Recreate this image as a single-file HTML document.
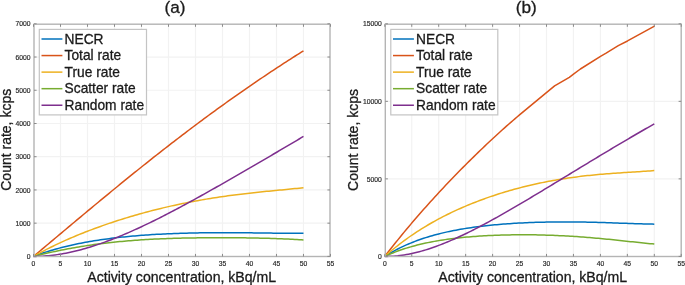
<!DOCTYPE html>
<html><head><meta charset="utf-8"><style>
html,body{margin:0;padding:0;background:#fff;width:685px;height:285px;overflow:hidden}
svg{display:block;will-change:transform}
text{font-family:"Liberation Sans",sans-serif;fill:#1a1a1a;stroke:#1a1a1a;stroke-width:0.3px}
.tk{stroke:#2a2a2a;stroke-width:0.18px}
.tk{font-size:6.75px;fill:#2a2a2a}
.lt{font-size:13.75px}
.xl{font-size:14.1px}
.yl{font-size:14px}
.ti{font-size:17.2px}
.g{stroke:#f2f2f2;stroke-width:1.2;fill:none}
.ax{stroke:#b4b4b4;stroke-width:1.4;fill:none}
.t{stroke:#8a8a8a;stroke-width:1}
.c{fill:none;stroke-width:1.5px;stroke-linejoin:round;stroke-linecap:butt}
.lg{fill:#fff;stroke:#c4c4c4;stroke-width:1.2}
</style></head><body>
<svg width="685" height="285" viewBox="0 0 685 285">

<line x1="60.50" y1="23.8" x2="60.50" y2="256.4" class="g"/>
<line x1="87.49" y1="23.8" x2="87.49" y2="256.4" class="g"/>
<line x1="114.49" y1="23.8" x2="114.49" y2="256.4" class="g"/>
<line x1="141.49" y1="23.8" x2="141.49" y2="256.4" class="g"/>
<line x1="168.49" y1="23.8" x2="168.49" y2="256.4" class="g"/>
<line x1="195.48" y1="23.8" x2="195.48" y2="256.4" class="g"/>
<line x1="222.48" y1="23.8" x2="222.48" y2="256.4" class="g"/>
<line x1="249.48" y1="23.8" x2="249.48" y2="256.4" class="g"/>
<line x1="276.48" y1="23.8" x2="276.48" y2="256.4" class="g"/>
<line x1="303.47" y1="23.8" x2="303.47" y2="256.4" class="g"/>
<line x1="33.5" y1="223.17" x2="330.47" y2="223.17" class="g"/>
<line x1="33.5" y1="189.94" x2="330.47" y2="189.94" class="g"/>
<line x1="33.5" y1="156.71" x2="330.47" y2="156.71" class="g"/>
<line x1="33.5" y1="123.49" x2="330.47" y2="123.49" class="g"/>
<line x1="33.5" y1="90.26" x2="330.47" y2="90.26" class="g"/>
<line x1="33.5" y1="57.03" x2="330.47" y2="57.03" class="g"/>
<path d="M33.50,256.40 L35.66,255.59 L37.82,254.81 L39.98,254.04 L42.14,253.30 L44.30,252.58 L46.46,251.88 L48.62,251.21 L50.78,250.55 L52.94,249.91 L55.10,249.29 L57.26,248.69 L59.42,248.10 L61.58,247.54 L63.74,246.99 L65.90,246.46 L68.06,245.94 L70.22,245.44 L72.38,244.95 L74.54,244.48 L76.70,244.02 L78.86,243.58 L81.02,243.15 L83.17,242.73 L85.33,242.33 L87.49,241.94 L89.65,241.56 L91.81,241.19 L93.97,240.83 L96.13,240.49 L98.29,240.16 L100.45,239.83 L102.61,239.52 L104.77,239.22 L106.93,238.92 L109.09,238.64 L111.25,238.36 L113.41,238.10 L115.57,237.84 L117.73,237.59 L119.89,237.35 L122.05,237.12 L124.21,236.90 L126.37,236.68 L128.53,236.47 L130.69,236.27 L132.85,236.08 L135.01,235.89 L137.17,235.71 L139.33,235.53 L141.49,235.37 L143.65,235.21 L145.81,235.05 L147.97,234.90 L150.13,234.76 L152.29,234.62 L154.45,234.49 L156.61,234.37 L158.77,234.25 L160.93,234.13 L163.09,234.02 L165.25,233.92 L167.41,233.82 L169.57,233.72 L171.73,233.63 L173.89,233.55 L176.05,233.47 L178.21,233.39 L180.37,233.32 L182.52,233.25 L184.68,233.19 L186.84,233.13 L189.00,233.08 L191.16,233.02 L193.32,232.98 L195.48,232.93 L197.64,232.89 L199.80,232.86 L201.96,232.83 L204.12,232.80 L206.28,232.77 L208.44,232.75 L210.60,232.73 L212.76,232.72 L214.92,232.70 L217.08,232.69 L219.24,232.69 L221.40,232.68 L223.56,232.68 L225.72,232.68 L227.88,232.69 L230.04,232.69 L232.20,232.70 L234.36,232.71 L236.52,232.73 L238.68,232.74 L240.84,232.76 L243.00,232.78 L245.16,232.80 L247.32,232.82 L249.48,232.84 L251.64,232.87 L253.80,232.89 L255.96,232.92 L258.12,232.95 L260.28,232.97 L262.44,233.00 L264.60,233.03 L266.76,233.06 L268.92,233.09 L271.08,233.12 L273.24,233.14 L275.40,233.17 L277.56,233.20 L279.72,233.22 L281.87,233.25 L284.03,233.27 L286.19,233.29 L288.35,233.31 L290.51,233.33 L292.67,233.34 L294.83,233.35 L296.99,233.36 L299.15,233.37 L301.31,233.37 L303.47,233.37" stroke="#0072BD" class="c"/>
<path d="M33.50,256.40 L35.66,254.59 L37.82,252.78 L39.98,250.97 L42.14,249.16 L44.30,247.35 L46.46,245.54 L48.62,243.73 L50.78,241.92 L52.94,240.10 L55.10,238.29 L57.26,236.48 L59.42,234.67 L61.58,232.85 L63.74,231.04 L65.90,229.23 L68.06,227.42 L70.22,225.61 L72.38,223.80 L74.54,222.00 L76.70,220.19 L78.86,218.38 L81.02,216.58 L83.17,214.78 L85.33,212.98 L87.49,211.18 L89.65,209.38 L91.81,207.59 L93.97,205.79 L96.13,204.00 L98.29,202.21 L100.45,200.42 L102.61,198.64 L104.77,196.86 L106.93,195.08 L109.09,193.30 L111.25,191.52 L113.41,189.75 L115.57,187.98 L117.73,186.21 L119.89,184.45 L122.05,182.69 L124.21,180.93 L126.37,179.18 L128.53,177.43 L130.69,175.68 L132.85,173.94 L135.01,172.20 L137.17,170.46 L139.33,168.73 L141.49,167.00 L143.65,165.27 L145.81,163.55 L147.97,161.83 L150.13,160.12 L152.29,158.41 L154.45,156.70 L156.61,155.00 L158.77,153.30 L160.93,151.61 L163.09,149.92 L165.25,148.23 L167.41,146.55 L169.57,144.88 L171.73,143.21 L173.89,141.54 L176.05,139.88 L178.21,138.22 L180.37,136.57 L182.52,134.92 L184.68,133.28 L186.84,131.64 L189.00,130.00 L191.16,128.37 L193.32,126.75 L195.48,125.13 L197.64,123.52 L199.80,121.91 L201.96,120.30 L204.12,118.70 L206.28,117.11 L208.44,115.52 L210.60,113.94 L212.76,112.36 L214.92,110.79 L217.08,109.22 L219.24,107.65 L221.40,106.10 L223.56,104.54 L225.72,103.00 L227.88,101.45 L230.04,99.92 L232.20,98.38 L234.36,96.86 L236.52,95.34 L238.68,93.82 L240.84,92.31 L243.00,90.81 L245.16,89.31 L247.32,87.81 L249.48,86.32 L251.64,84.84 L253.80,83.36 L255.96,81.89 L258.12,80.42 L260.28,78.96 L262.44,77.50 L264.60,76.05 L266.76,74.60 L268.92,73.16 L271.08,71.72 L273.24,70.29 L275.40,68.86 L277.56,67.44 L279.72,66.02 L281.87,64.61 L284.03,63.21 L286.19,61.81 L288.35,60.41 L290.51,59.02 L292.67,57.63 L294.83,56.25 L296.99,54.88 L299.15,53.51 L301.31,52.14 L303.47,50.78" stroke="#D95319" class="c"/>
<path d="M33.50,256.40 L35.66,255.19 L37.82,254.01 L39.98,252.84 L42.14,251.69 L44.30,250.56 L46.46,249.45 L48.62,248.36 L50.78,247.28 L52.94,246.22 L55.10,245.18 L57.26,244.15 L59.42,243.14 L61.58,242.14 L63.74,241.16 L65.90,240.19 L68.06,239.24 L70.22,238.30 L72.38,237.37 L74.54,236.46 L76.70,235.56 L78.86,234.67 L81.02,233.79 L83.17,232.93 L85.33,232.07 L87.49,231.23 L89.65,230.40 L91.81,229.59 L93.97,228.78 L96.13,227.98 L98.29,227.19 L100.45,226.42 L102.61,225.65 L104.77,224.89 L106.93,224.15 L109.09,223.41 L111.25,222.68 L113.41,221.97 L115.57,221.26 L117.73,220.56 L119.89,219.87 L122.05,219.19 L124.21,218.52 L126.37,217.86 L128.53,217.20 L130.69,216.56 L132.85,215.92 L135.01,215.29 L137.17,214.67 L139.33,214.06 L141.49,213.46 L143.65,212.86 L145.81,212.28 L147.97,211.70 L150.13,211.13 L152.29,210.57 L154.45,210.02 L156.61,209.47 L158.77,208.94 L160.93,208.41 L163.09,207.89 L165.25,207.38 L167.41,206.87 L169.57,206.38 L171.73,205.89 L173.89,205.41 L176.05,204.93 L178.21,204.47 L180.37,204.01 L182.52,203.56 L184.68,203.12 L186.84,202.69 L189.00,202.26 L191.16,201.85 L193.32,201.43 L195.48,201.03 L197.64,200.64 L199.80,200.25 L201.96,199.87 L204.12,199.49 L206.28,199.13 L208.44,198.77 L210.60,198.42 L212.76,198.07 L214.92,197.74 L217.08,197.41 L219.24,197.08 L221.40,196.77 L223.56,196.45 L225.72,196.15 L227.88,195.85 L230.04,195.56 L232.20,195.27 L234.36,194.99 L236.52,194.72 L238.68,194.45 L240.84,194.19 L243.00,193.93 L245.16,193.68 L247.32,193.43 L249.48,193.18 L251.64,192.94 L253.80,192.71 L255.96,192.48 L258.12,192.25 L260.28,192.02 L262.44,191.80 L264.60,191.58 L266.76,191.37 L268.92,191.15 L271.08,190.94 L273.24,190.73 L275.40,190.52 L277.56,190.31 L279.72,190.10 L281.87,189.89 L284.03,189.68 L286.19,189.46 L288.35,189.25 L290.51,189.04 L292.67,188.82 L294.83,188.60 L296.99,188.38 L299.15,188.15 L301.31,187.92 L303.47,187.68" stroke="#EDB120" class="c"/>
<path d="M33.50,256.40 L35.66,255.87 L37.82,255.34 L39.98,254.82 L42.14,254.31 L44.30,253.81 L46.46,253.32 L48.62,252.83 L50.78,252.35 L52.94,251.88 L55.10,251.42 L57.26,250.97 L59.42,250.53 L61.58,250.09 L63.74,249.67 L65.90,249.25 L68.06,248.84 L70.22,248.44 L72.38,248.05 L74.54,247.67 L76.70,247.29 L78.86,246.93 L81.02,246.57 L83.17,246.22 L85.33,245.88 L87.49,245.55 L89.65,245.23 L91.81,244.92 L93.97,244.61 L96.13,244.32 L98.29,244.03 L100.45,243.75 L102.61,243.48 L104.77,243.21 L106.93,242.96 L109.09,242.71 L111.25,242.47 L113.41,242.23 L115.57,242.01 L117.73,241.79 L119.89,241.58 L122.05,241.38 L124.21,241.18 L126.37,240.99 L128.53,240.81 L130.69,240.64 L132.85,240.47 L135.01,240.31 L137.17,240.15 L139.33,240.00 L141.49,239.86 L143.65,239.72 L145.81,239.59 L147.97,239.46 L150.13,239.34 L152.29,239.23 L154.45,239.12 L156.61,239.01 L158.77,238.91 L160.93,238.82 L163.09,238.73 L165.25,238.65 L167.41,238.56 L169.57,238.49 L171.73,238.42 L173.89,238.35 L176.05,238.29 L178.21,238.23 L180.37,238.17 L182.52,238.12 L184.68,238.07 L186.84,238.03 L189.00,237.99 L191.16,237.95 L193.32,237.91 L195.48,237.88 L197.64,237.85 L199.80,237.83 L201.96,237.80 L204.12,237.78 L206.28,237.77 L208.44,237.75 L210.60,237.74 L212.76,237.73 L214.92,237.72 L217.08,237.72 L219.24,237.71 L221.40,237.71 L223.56,237.72 L225.72,237.72 L227.88,237.73 L230.04,237.74 L232.20,237.75 L234.36,237.76 L236.52,237.78 L238.68,237.80 L240.84,237.82 L243.00,237.84 L245.16,237.87 L247.32,237.90 L249.48,237.93 L251.64,237.96 L253.80,238.00 L255.96,238.04 L258.12,238.08 L260.28,238.13 L262.44,238.18 L264.60,238.23 L266.76,238.29 L268.92,238.35 L271.08,238.42 L273.24,238.49 L275.40,238.56 L277.56,238.64 L279.72,238.72 L281.87,238.81 L284.03,238.90 L286.19,239.00 L288.35,239.10 L290.51,239.22 L292.67,239.33 L294.83,239.46 L296.99,239.59 L299.15,239.73 L301.31,239.87 L303.47,240.03" stroke="#77AC30" class="c"/>
<path d="M33.50,256.40 L35.66,256.39 L37.82,256.34 L39.98,256.27 L42.14,256.17 L44.30,256.03 L46.46,255.87 L48.62,255.67 L50.78,255.45 L52.94,255.20 L55.10,254.92 L57.26,254.62 L59.42,254.29 L61.58,253.93 L63.74,253.55 L65.90,253.15 L68.06,252.72 L70.22,252.26 L72.38,251.78 L74.54,251.28 L76.70,250.76 L78.86,250.21 L81.02,249.65 L83.17,249.06 L85.33,248.45 L87.49,247.82 L89.65,247.17 L91.81,246.50 L93.97,245.82 L96.13,245.11 L98.29,244.39 L100.45,243.64 L102.61,242.89 L104.77,242.11 L106.93,241.32 L109.09,240.51 L111.25,239.69 L113.41,238.85 L115.57,237.99 L117.73,237.12 L119.89,236.24 L122.05,235.34 L124.21,234.43 L126.37,233.51 L128.53,232.57 L130.69,231.63 L132.85,230.67 L135.01,229.69 L137.17,228.71 L139.33,227.71 L141.49,226.71 L143.65,225.69 L145.81,224.66 L147.97,223.63 L150.13,222.58 L152.29,221.53 L154.45,220.46 L156.61,219.39 L158.77,218.31 L160.93,217.22 L163.09,216.12 L165.25,215.01 L167.41,213.90 L169.57,212.78 L171.73,211.65 L173.89,210.52 L176.05,209.38 L178.21,208.23 L180.37,207.08 L182.52,205.92 L184.68,204.76 L186.84,203.59 L189.00,202.42 L191.16,201.24 L193.32,200.05 L195.48,198.87 L197.64,197.67 L199.80,196.48 L201.96,195.27 L204.12,194.07 L206.28,192.86 L208.44,191.65 L210.60,190.44 L212.76,189.22 L214.92,188.00 L217.08,186.77 L219.24,185.54 L221.40,184.32 L223.56,183.08 L225.72,181.85 L227.88,180.61 L230.04,179.37 L232.20,178.13 L234.36,176.89 L236.52,175.64 L238.68,174.40 L240.84,173.15 L243.00,171.90 L245.16,170.65 L247.32,169.40 L249.48,168.14 L251.64,166.89 L253.80,165.63 L255.96,164.37 L258.12,163.11 L260.28,161.85 L262.44,160.59 L264.60,159.33 L266.76,158.07 L268.92,156.80 L271.08,155.54 L273.24,154.27 L275.40,153.01 L277.56,151.74 L279.72,150.47 L281.87,149.20 L284.03,147.93 L286.19,146.66 L288.35,145.38 L290.51,144.11 L292.67,142.83 L294.83,141.56 L296.99,140.28 L299.15,139.00 L301.31,137.72 L303.47,136.44" stroke="#7E2F8E" class="c"/>
<rect x="34.0" y="24.2" width="296.00" height="232.30" class="ax"/>
<line x1="33.50" y1="256.5" x2="33.50" y2="253.9" class="t"/>
<line x1="33.50" y1="24.2" x2="33.50" y2="26.8" class="t"/>
<text x="33.50" y="265.9" class="tk" text-anchor="middle">0</text>
<line x1="60.50" y1="256.5" x2="60.50" y2="253.9" class="t"/>
<line x1="60.50" y1="24.2" x2="60.50" y2="26.8" class="t"/>
<text x="60.50" y="265.9" class="tk" text-anchor="middle">5</text>
<line x1="87.49" y1="256.5" x2="87.49" y2="253.9" class="t"/>
<line x1="87.49" y1="24.2" x2="87.49" y2="26.8" class="t"/>
<text x="87.49" y="265.9" class="tk" text-anchor="middle">10</text>
<line x1="114.49" y1="256.5" x2="114.49" y2="253.9" class="t"/>
<line x1="114.49" y1="24.2" x2="114.49" y2="26.8" class="t"/>
<text x="114.49" y="265.9" class="tk" text-anchor="middle">15</text>
<line x1="141.49" y1="256.5" x2="141.49" y2="253.9" class="t"/>
<line x1="141.49" y1="24.2" x2="141.49" y2="26.8" class="t"/>
<text x="141.49" y="265.9" class="tk" text-anchor="middle">20</text>
<line x1="168.49" y1="256.5" x2="168.49" y2="253.9" class="t"/>
<line x1="168.49" y1="24.2" x2="168.49" y2="26.8" class="t"/>
<text x="168.49" y="265.9" class="tk" text-anchor="middle">25</text>
<line x1="195.48" y1="256.5" x2="195.48" y2="253.9" class="t"/>
<line x1="195.48" y1="24.2" x2="195.48" y2="26.8" class="t"/>
<text x="195.48" y="265.9" class="tk" text-anchor="middle">30</text>
<line x1="222.48" y1="256.5" x2="222.48" y2="253.9" class="t"/>
<line x1="222.48" y1="24.2" x2="222.48" y2="26.8" class="t"/>
<text x="222.48" y="265.9" class="tk" text-anchor="middle">35</text>
<line x1="249.48" y1="256.5" x2="249.48" y2="253.9" class="t"/>
<line x1="249.48" y1="24.2" x2="249.48" y2="26.8" class="t"/>
<text x="249.48" y="265.9" class="tk" text-anchor="middle">40</text>
<line x1="276.48" y1="256.5" x2="276.48" y2="253.9" class="t"/>
<line x1="276.48" y1="24.2" x2="276.48" y2="26.8" class="t"/>
<text x="276.48" y="265.9" class="tk" text-anchor="middle">45</text>
<line x1="303.47" y1="256.5" x2="303.47" y2="253.9" class="t"/>
<line x1="303.47" y1="24.2" x2="303.47" y2="26.8" class="t"/>
<text x="303.47" y="265.9" class="tk" text-anchor="middle">50</text>
<line x1="330.47" y1="256.5" x2="330.47" y2="253.9" class="t"/>
<line x1="330.47" y1="24.2" x2="330.47" y2="26.8" class="t"/>
<text x="330.47" y="265.9" class="tk" text-anchor="middle">55</text>
<line x1="34.0" y1="256.40" x2="36.6" y2="256.40" class="t"/>
<line x1="330.0" y1="256.40" x2="327.4" y2="256.40" class="t"/>
<text x="30.50" y="259.07" class="tk" text-anchor="end">0</text>
<line x1="34.0" y1="223.17" x2="36.6" y2="223.17" class="t"/>
<line x1="330.0" y1="223.17" x2="327.4" y2="223.17" class="t"/>
<text x="30.50" y="225.84" class="tk" text-anchor="end">1000</text>
<line x1="34.0" y1="189.94" x2="36.6" y2="189.94" class="t"/>
<line x1="330.0" y1="189.94" x2="327.4" y2="189.94" class="t"/>
<text x="30.50" y="192.61" class="tk" text-anchor="end">2000</text>
<line x1="34.0" y1="156.71" x2="36.6" y2="156.71" class="t"/>
<line x1="330.0" y1="156.71" x2="327.4" y2="156.71" class="t"/>
<text x="30.50" y="159.38" class="tk" text-anchor="end">3000</text>
<line x1="34.0" y1="123.49" x2="36.6" y2="123.49" class="t"/>
<line x1="330.0" y1="123.49" x2="327.4" y2="123.49" class="t"/>
<text x="30.50" y="126.16" class="tk" text-anchor="end">4000</text>
<line x1="34.0" y1="90.26" x2="36.6" y2="90.26" class="t"/>
<line x1="330.0" y1="90.26" x2="327.4" y2="90.26" class="t"/>
<text x="30.50" y="92.93" class="tk" text-anchor="end">5000</text>
<line x1="34.0" y1="57.03" x2="36.6" y2="57.03" class="t"/>
<line x1="330.0" y1="57.03" x2="327.4" y2="57.03" class="t"/>
<text x="30.50" y="59.70" class="tk" text-anchor="end">6000</text>
<line x1="34.0" y1="23.80" x2="36.6" y2="23.80" class="t"/>
<line x1="330.0" y1="23.80" x2="327.4" y2="23.80" class="t"/>
<text x="30.50" y="26.47" class="tk" text-anchor="end">7000</text>
<rect x="39.3" y="29.4" width="107.2" height="85.5" class="lg"/>
<line x1="41.5" y1="39.00" x2="62.4" y2="39.00" stroke="#0072BD" class="c" style="stroke-width:1.5px"/>
<text x="64.6" y="43.80" class="lt">NECR</text>
<line x1="41.5" y1="55.56" x2="62.4" y2="55.56" stroke="#D95319" class="c" style="stroke-width:1.5px"/>
<text x="64.6" y="60.36" class="lt">Total rate</text>
<line x1="41.5" y1="72.12" x2="62.4" y2="72.12" stroke="#EDB120" class="c" style="stroke-width:1.5px"/>
<text x="64.6" y="76.92" class="lt">True rate</text>
<line x1="41.5" y1="88.68" x2="62.4" y2="88.68" stroke="#77AC30" class="c" style="stroke-width:1.5px"/>
<text x="64.6" y="93.48" class="lt">Scatter rate</text>
<line x1="41.5" y1="105.24" x2="62.4" y2="105.24" stroke="#7E2F8E" class="c" style="stroke-width:1.5px"/>
<text x="64.6" y="110.04" class="lt">Random rate</text>
<text x="175.0" y="13.2" class="ti" text-anchor="middle">(a)</text>
<text x="181.69" y="282.2" class="xl" text-anchor="middle">Activity concentration, kBq/mL</text>
<line x1="411.75" y1="23.8" x2="411.75" y2="256.4" class="g"/>
<line x1="438.70" y1="23.8" x2="438.70" y2="256.4" class="g"/>
<line x1="465.65" y1="23.8" x2="465.65" y2="256.4" class="g"/>
<line x1="492.60" y1="23.8" x2="492.60" y2="256.4" class="g"/>
<line x1="519.55" y1="23.8" x2="519.55" y2="256.4" class="g"/>
<line x1="546.50" y1="23.8" x2="546.50" y2="256.4" class="g"/>
<line x1="573.45" y1="23.8" x2="573.45" y2="256.4" class="g"/>
<line x1="600.40" y1="23.8" x2="600.40" y2="256.4" class="g"/>
<line x1="627.35" y1="23.8" x2="627.35" y2="256.4" class="g"/>
<line x1="654.30" y1="23.8" x2="654.30" y2="256.4" class="g"/>
<line x1="384.8" y1="178.87" x2="681.25" y2="178.87" class="g"/>
<line x1="384.8" y1="101.33" x2="681.25" y2="101.33" class="g"/>
<path d="M384.80,256.40 L386.96,255.06 L389.11,253.77 L391.27,252.52 L393.42,251.32 L395.58,250.15 L397.74,249.03 L399.89,247.95 L402.05,246.91 L404.20,245.90 L406.36,244.93 L408.52,243.99 L410.67,243.09 L412.83,242.22 L414.98,241.38 L417.14,240.57 L419.30,239.79 L421.45,239.04 L423.61,238.32 L425.76,237.62 L427.92,236.95 L430.08,236.30 L432.23,235.67 L434.39,235.07 L436.54,234.49 L438.70,233.93 L440.86,233.39 L443.01,232.87 L445.17,232.37 L447.32,231.89 L449.48,231.43 L451.64,230.98 L453.79,230.55 L455.95,230.14 L458.10,229.74 L460.26,229.35 L462.42,228.98 L464.57,228.63 L466.73,228.28 L468.88,227.95 L471.04,227.64 L473.20,227.33 L475.35,227.04 L477.51,226.75 L479.66,226.48 L481.82,226.22 L483.98,225.97 L486.13,225.73 L488.29,225.49 L490.44,225.27 L492.60,225.06 L494.76,224.85 L496.91,224.66 L499.07,224.47 L501.22,224.29 L503.38,224.12 L505.54,223.95 L507.69,223.80 L509.85,223.65 L512.00,223.50 L514.16,223.37 L516.32,223.24 L518.47,223.12 L520.63,223.00 L522.78,222.89 L524.94,222.79 L527.10,222.69 L529.25,222.60 L531.41,222.52 L533.56,222.44 L535.72,222.37 L537.88,222.30 L540.03,222.24 L542.19,222.18 L544.34,222.13 L546.50,222.09 L548.66,222.05 L550.81,222.02 L552.97,221.99 L555.12,221.96 L557.28,221.94 L559.44,221.93 L561.59,221.92 L563.75,221.92 L565.90,221.92 L568.06,221.92 L570.22,221.93 L572.37,221.95 L574.53,221.96 L576.68,221.99 L578.84,222.02 L581.00,222.05 L583.15,222.08 L585.31,222.12 L587.46,222.16 L589.62,222.21 L591.78,222.26 L593.93,222.31 L596.09,222.37 L598.24,222.43 L600.40,222.49 L602.56,222.56 L604.71,222.62 L606.87,222.69 L609.02,222.77 L611.18,222.84 L613.34,222.91 L615.49,222.99 L617.65,223.07 L619.80,223.14 L621.96,223.22 L624.12,223.30 L626.27,223.37 L628.43,223.45 L630.58,223.53 L632.74,223.60 L634.90,223.67 L637.05,223.74 L639.21,223.81 L641.36,223.87 L643.52,223.93 L645.68,223.99 L647.83,224.04 L649.99,224.08 L652.14,224.12 L654.30,224.16" stroke="#0072BD" class="c"/>
<path d="M384.80,256.40 L386.97,253.58 L389.15,250.78 L391.32,248.01 L393.49,245.26 L395.66,242.54 L397.84,239.85 L400.01,237.17 L402.18,234.52 L404.35,231.89 L406.53,229.28 L408.70,226.69 L410.87,224.12 L413.04,221.57 L415.22,219.04 L417.39,216.53 L419.56,214.03 L421.73,211.55 L423.91,209.09 L426.08,206.65 L428.25,204.22 L430.42,201.81 L432.60,199.41 L434.77,197.03 L436.94,194.67 L439.11,192.32 L441.29,189.98 L443.46,187.66 L445.63,185.35 L447.80,183.06 L449.98,180.78 L452.15,178.52 L454.32,176.26 L456.50,174.03 L458.67,171.80 L460.84,169.59 L463.01,167.39 L465.19,165.21 L467.36,163.03 L469.53,160.87 L471.70,158.73 L473.88,156.60 L476.05,154.48 L478.22,152.37 L480.39,150.27 L482.57,148.19 L484.74,146.13 L486.91,144.07 L489.08,142.03 L491.26,140.00 L493.43,137.99 L495.60,135.99 L497.77,134.00 L499.95,132.02 L502.12,130.06 L504.29,128.12 L506.46,126.18 L508.64,124.26 L510.81,122.36 L512.98,120.47 L515.15,118.59 L517.33,116.73 L519.50,114.86 L554.60,85.90 L569.30,77.30 L573.50,74.20 L580.40,69.00 L600.50,56.30 L606.10,53.10 L618.30,45.70 L627.50,40.96 L654.50,26.10" stroke="#D95319" class="c"/>
<path d="M384.80,256.40 L386.96,254.49 L389.11,252.62 L391.27,250.79 L393.42,249.00 L395.58,247.25 L397.74,245.54 L399.89,243.87 L402.05,242.23 L404.20,240.62 L406.36,239.05 L408.52,237.51 L410.67,236.00 L412.83,234.53 L414.98,233.08 L417.14,231.66 L419.30,230.28 L421.45,228.92 L423.61,227.58 L425.76,226.27 L427.92,224.99 L430.08,223.74 L432.23,222.51 L434.39,221.30 L436.54,220.11 L438.70,218.95 L440.86,217.81 L443.01,216.69 L445.17,215.59 L447.32,214.51 L449.48,213.46 L451.64,212.42 L453.79,211.40 L455.95,210.40 L458.10,209.42 L460.26,208.45 L462.42,207.51 L464.57,206.58 L466.73,205.66 L468.88,204.77 L471.04,203.89 L473.20,203.02 L475.35,202.18 L477.51,201.34 L479.66,200.53 L481.82,199.72 L483.98,198.94 L486.13,198.16 L488.29,197.40 L490.44,196.66 L492.60,195.93 L494.76,195.21 L496.91,194.50 L499.07,193.81 L501.22,193.14 L503.38,192.47 L505.54,191.82 L507.69,191.18 L509.85,190.56 L512.00,189.94 L514.16,189.34 L516.32,188.75 L518.47,188.18 L520.63,187.61 L522.78,187.06 L524.94,186.52 L527.10,185.99 L529.25,185.47 L531.41,184.97 L533.56,184.48 L535.72,183.99 L537.88,183.52 L540.03,183.06 L542.19,182.62 L544.34,182.18 L546.50,181.75 L548.66,181.34 L550.81,180.94 L552.97,180.54 L555.12,180.16 L557.28,179.79 L559.44,179.43 L561.59,179.08 L563.75,178.74 L565.90,178.41 L568.06,178.08 L570.22,177.77 L572.37,177.47 L574.53,177.18 L576.68,176.90 L578.84,176.63 L581.00,176.36 L583.15,176.11 L585.31,175.86 L587.46,175.62 L589.62,175.39 L591.78,175.17 L593.93,174.96 L596.09,174.75 L598.24,174.55 L600.40,174.36 L602.56,174.17 L604.71,173.99 L606.87,173.82 L609.02,173.65 L611.18,173.49 L613.34,173.33 L615.49,173.17 L617.65,173.02 L619.80,172.88 L621.96,172.73 L624.12,172.59 L626.27,172.45 L628.43,172.32 L630.58,172.18 L632.74,172.05 L634.90,171.91 L637.05,171.78 L639.21,171.64 L641.36,171.51 L643.52,171.36 L645.68,171.22 L647.83,171.07 L649.99,170.92 L652.14,170.77 L654.30,170.60" stroke="#EDB120" class="c"/>
<path d="M384.80,256.40 L386.96,255.42 L389.11,254.48 L391.27,253.57 L393.42,252.70 L395.58,251.86 L397.74,251.06 L399.89,250.29 L402.05,249.54 L404.20,248.83 L406.36,248.14 L408.52,247.48 L410.67,246.85 L412.83,246.25 L414.98,245.66 L417.14,245.10 L419.30,244.57 L421.45,244.05 L423.61,243.56 L425.76,243.09 L427.92,242.63 L430.08,242.20 L432.23,241.78 L434.39,241.38 L436.54,241.00 L438.70,240.63 L440.86,240.28 L443.01,239.95 L445.17,239.63 L447.32,239.32 L449.48,239.03 L451.64,238.75 L453.79,238.48 L455.95,238.22 L458.10,237.98 L460.26,237.75 L462.42,237.53 L464.57,237.32 L466.73,237.12 L468.88,236.92 L471.04,236.74 L473.20,236.57 L475.35,236.41 L477.51,236.26 L479.66,236.11 L481.82,235.98 L483.98,235.85 L486.13,235.73 L488.29,235.62 L490.44,235.51 L492.60,235.41 L494.76,235.32 L496.91,235.24 L499.07,235.16 L501.22,235.10 L503.38,235.03 L505.54,234.98 L507.69,234.93 L509.85,234.89 L512.00,234.85 L514.16,234.82 L516.32,234.80 L518.47,234.78 L520.63,234.77 L522.78,234.77 L524.94,234.77 L527.10,234.78 L529.25,234.79 L531.41,234.81 L533.56,234.84 L535.72,234.87 L537.88,234.91 L540.03,234.96 L542.19,235.01 L544.34,235.06 L546.50,235.13 L548.66,235.20 L550.81,235.27 L552.97,235.35 L555.12,235.44 L557.28,235.53 L559.44,235.63 L561.59,235.73 L563.75,235.84 L565.90,235.96 L568.06,236.08 L570.22,236.21 L572.37,236.34 L574.53,236.48 L576.68,236.62 L578.84,236.77 L581.00,236.93 L583.15,237.09 L585.31,237.25 L587.46,237.42 L589.62,237.60 L591.78,237.78 L593.93,237.96 L596.09,238.15 L598.24,238.35 L600.40,238.54 L602.56,238.75 L604.71,238.95 L606.87,239.16 L609.02,239.37 L611.18,239.59 L613.34,239.81 L615.49,240.03 L617.65,240.26 L619.80,240.48 L621.96,240.71 L624.12,240.94 L626.27,241.17 L628.43,241.40 L630.58,241.63 L632.74,241.86 L634.90,242.10 L637.05,242.33 L639.21,242.55 L641.36,242.78 L643.52,243.00 L645.68,243.23 L647.83,243.44 L649.99,243.66 L652.14,243.86 L654.30,244.07" stroke="#77AC30" class="c"/>
<path d="M384.80,256.40 L386.96,256.41 L389.11,256.37 L391.27,256.29 L393.42,256.17 L395.58,256.00 L397.74,255.80 L399.89,255.55 L402.05,255.26 L404.20,254.94 L406.36,254.58 L408.52,254.18 L410.67,253.75 L412.83,253.29 L414.98,252.79 L417.14,252.26 L419.30,251.70 L421.45,251.12 L423.61,250.50 L425.76,249.85 L427.92,249.17 L430.08,248.47 L432.23,247.75 L434.39,246.99 L436.54,246.22 L438.70,245.42 L440.86,244.59 L443.01,243.75 L445.17,242.88 L447.32,242.00 L449.48,241.09 L451.64,240.16 L453.79,239.22 L455.95,238.26 L458.10,237.28 L460.26,236.28 L462.42,235.27 L464.57,234.24 L466.73,233.20 L468.88,232.14 L471.04,231.07 L473.20,229.98 L475.35,228.88 L477.51,227.77 L479.66,226.65 L481.82,225.52 L483.98,224.37 L486.13,223.22 L488.29,222.05 L490.44,220.88 L492.60,219.70 L494.76,218.50 L496.91,217.30 L499.07,216.10 L501.22,214.88 L503.38,213.66 L505.54,212.43 L507.69,211.19 L509.85,209.95 L512.00,208.70 L514.16,207.44 L516.32,206.19 L518.47,204.92 L520.63,203.65 L522.78,202.38 L524.94,201.10 L527.10,199.82 L529.25,198.54 L531.41,197.25 L533.56,195.96 L535.72,194.66 L537.88,193.37 L540.03,192.07 L542.19,190.77 L544.34,189.47 L546.50,188.16 L548.66,186.86 L550.81,185.55 L552.97,184.24 L555.12,182.93 L557.28,181.62 L559.44,180.31 L561.59,179.00 L563.75,177.69 L565.90,176.37 L568.06,175.06 L570.22,173.75 L572.37,172.44 L574.53,171.13 L576.68,169.82 L578.84,168.51 L581.00,167.20 L583.15,165.89 L585.31,164.58 L587.46,163.27 L589.62,161.97 L591.78,160.66 L593.93,159.36 L596.09,158.06 L598.24,156.76 L600.40,155.46 L602.56,154.17 L604.71,152.87 L606.87,151.58 L609.02,150.29 L611.18,149.00 L613.34,147.72 L615.49,146.43 L617.65,145.15 L619.80,143.87 L621.96,142.60 L624.12,141.33 L626.27,140.06 L628.43,138.79 L630.58,137.52 L632.74,136.26 L634.90,135.01 L637.05,133.75 L639.21,132.50 L641.36,131.25 L643.52,130.01 L645.68,128.77 L647.83,127.53 L649.99,126.30 L652.14,125.07 L654.30,123.85" stroke="#7E2F8E" class="c"/>
<rect x="385.3" y="24.2" width="295.90" height="232.30" class="ax"/>
<line x1="384.80" y1="256.5" x2="384.80" y2="253.9" class="t"/>
<line x1="384.80" y1="24.2" x2="384.80" y2="26.8" class="t"/>
<text x="384.80" y="265.9" class="tk" text-anchor="middle">0</text>
<line x1="411.75" y1="256.5" x2="411.75" y2="253.9" class="t"/>
<line x1="411.75" y1="24.2" x2="411.75" y2="26.8" class="t"/>
<text x="411.75" y="265.9" class="tk" text-anchor="middle">5</text>
<line x1="438.70" y1="256.5" x2="438.70" y2="253.9" class="t"/>
<line x1="438.70" y1="24.2" x2="438.70" y2="26.8" class="t"/>
<text x="438.70" y="265.9" class="tk" text-anchor="middle">10</text>
<line x1="465.65" y1="256.5" x2="465.65" y2="253.9" class="t"/>
<line x1="465.65" y1="24.2" x2="465.65" y2="26.8" class="t"/>
<text x="465.65" y="265.9" class="tk" text-anchor="middle">15</text>
<line x1="492.60" y1="256.5" x2="492.60" y2="253.9" class="t"/>
<line x1="492.60" y1="24.2" x2="492.60" y2="26.8" class="t"/>
<text x="492.60" y="265.9" class="tk" text-anchor="middle">20</text>
<line x1="519.55" y1="256.5" x2="519.55" y2="253.9" class="t"/>
<line x1="519.55" y1="24.2" x2="519.55" y2="26.8" class="t"/>
<text x="519.55" y="265.9" class="tk" text-anchor="middle">25</text>
<line x1="546.50" y1="256.5" x2="546.50" y2="253.9" class="t"/>
<line x1="546.50" y1="24.2" x2="546.50" y2="26.8" class="t"/>
<text x="546.50" y="265.9" class="tk" text-anchor="middle">30</text>
<line x1="573.45" y1="256.5" x2="573.45" y2="253.9" class="t"/>
<line x1="573.45" y1="24.2" x2="573.45" y2="26.8" class="t"/>
<text x="573.45" y="265.9" class="tk" text-anchor="middle">35</text>
<line x1="600.40" y1="256.5" x2="600.40" y2="253.9" class="t"/>
<line x1="600.40" y1="24.2" x2="600.40" y2="26.8" class="t"/>
<text x="600.40" y="265.9" class="tk" text-anchor="middle">40</text>
<line x1="627.35" y1="256.5" x2="627.35" y2="253.9" class="t"/>
<line x1="627.35" y1="24.2" x2="627.35" y2="26.8" class="t"/>
<text x="627.35" y="265.9" class="tk" text-anchor="middle">45</text>
<line x1="654.30" y1="256.5" x2="654.30" y2="253.9" class="t"/>
<line x1="654.30" y1="24.2" x2="654.30" y2="26.8" class="t"/>
<text x="654.30" y="265.9" class="tk" text-anchor="middle">50</text>
<line x1="681.25" y1="256.5" x2="681.25" y2="253.9" class="t"/>
<line x1="681.25" y1="24.2" x2="681.25" y2="26.8" class="t"/>
<text x="681.25" y="265.9" class="tk" text-anchor="middle">55</text>
<line x1="385.3" y1="256.40" x2="387.90000000000003" y2="256.40" class="t"/>
<line x1="681.2" y1="256.40" x2="678.6" y2="256.40" class="t"/>
<text x="381.80" y="259.07" class="tk" text-anchor="end">0</text>
<line x1="385.3" y1="178.87" x2="387.90000000000003" y2="178.87" class="t"/>
<line x1="681.2" y1="178.87" x2="678.6" y2="178.87" class="t"/>
<text x="381.80" y="181.54" class="tk" text-anchor="end">5000</text>
<line x1="385.3" y1="101.33" x2="387.90000000000003" y2="101.33" class="t"/>
<line x1="681.2" y1="101.33" x2="678.6" y2="101.33" class="t"/>
<text x="381.80" y="104.00" class="tk" text-anchor="end">10000</text>
<line x1="385.3" y1="23.80" x2="387.90000000000003" y2="23.80" class="t"/>
<line x1="681.2" y1="23.80" x2="678.6" y2="23.80" class="t"/>
<text x="381.80" y="26.47" class="tk" text-anchor="end">15000</text>
<rect x="390.8" y="29.4" width="107.0" height="85.5" class="lg"/>
<line x1="393.0" y1="39.00" x2="413.90000000000003" y2="39.00" stroke="#0072BD" class="c" style="stroke-width:1.5px"/>
<text x="416.1" y="43.80" class="lt">NECR</text>
<line x1="393.0" y1="55.56" x2="413.90000000000003" y2="55.56" stroke="#D95319" class="c" style="stroke-width:1.5px"/>
<text x="416.1" y="60.36" class="lt">Total rate</text>
<line x1="393.0" y1="72.12" x2="413.90000000000003" y2="72.12" stroke="#EDB120" class="c" style="stroke-width:1.5px"/>
<text x="416.1" y="76.92" class="lt">True rate</text>
<line x1="393.0" y1="88.68" x2="413.90000000000003" y2="88.68" stroke="#77AC30" class="c" style="stroke-width:1.5px"/>
<text x="416.1" y="93.48" class="lt">Scatter rate</text>
<line x1="393.0" y1="105.24" x2="413.90000000000003" y2="105.24" stroke="#7E2F8E" class="c" style="stroke-width:1.5px"/>
<text x="416.1" y="110.04" class="lt">Random rate</text>
<text x="526.3" y="13.2" class="ti" text-anchor="middle">(b)</text>
<text x="532.73" y="282.2" class="xl" text-anchor="middle">Activity concentration, kBq/mL</text>
<text transform="translate(11.0,139.8) rotate(-90)" class="xl yl" text-anchor="middle">Count rate, kcps</text><text transform="translate(358.35,140.0) rotate(-90)" class="xl yl" text-anchor="middle">Count rate, kcps</text>
</svg>
</body></html>
